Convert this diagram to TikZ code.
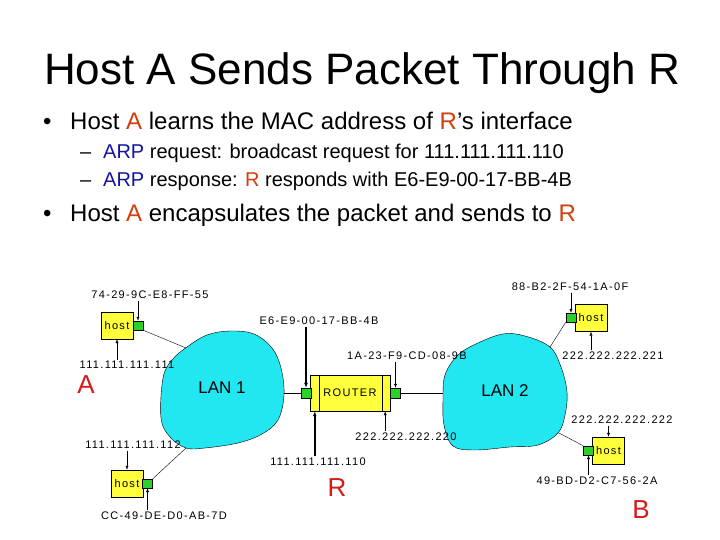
\documentclass[tikz,border=0pt]{standalone}
\usepackage{fontspec}
\setmainfont{Liberation Sans}
\newfontfamily\addrfont[LetterSpace=12]{Liberation Sans}
\usetikzlibrary{arrows.meta,positioning,calc}
\definecolor{hlorange}{RGB}{215,60,10}
\definecolor{arpblue}{RGB}{20,20,160}
\definecolor{sitered}{RGB}{215,25,25}
\definecolor{lancyan}{RGB}{34,230,240}
\definecolor{hostyellow}{RGB}{255,255,60}
\definecolor{portgreen}{RGB}{40,210,40}

\begin{document}
\begin{tikzpicture}[x=1pt, y=-1pt,
  hostbox/.style={draw, fill=hostyellow, minimum width=32pt, minimum height=27pt,
        inner sep=0pt, font=\addrfont\fontsize{11}{13}\selectfont},
  port/.style={draw, fill=portgreen, minimum width=10pt, minimum height=9pt, inner sep=0pt},
  addr/.style={font=\addrfont\fontsize{11}{13}\selectfont, inner sep=1.5pt},
  addrarr/.style={-{Latex[length=4pt,width=3pt]}},
  rtrarr/.style={-{Latex[length=5pt,width=4pt]}, line width=1.6pt},
  site/.style={text=sitered, font=\fontsize{26}{28}\selectfont},
  lan/.style={draw, fill=lancyan},
  line/.style={anchor=base west, inner sep=0pt}]
  \fill[white] (0,0) rectangle (720,540);
  \useasboundingbox (0,0) rectangle (720,540);

  % title and bullets
  \node[line, font=\fontsize{44}{48}\selectfont] (ttl) at (44,85)
    {Host A Sends Packet Through R};
  \node[line, font=\fontsize{24}{28}\selectfont] (b1dot) at (43,130) {•};
  \node[line, font=\fontsize{24}{28}\selectfont] (b1) at (70,130)
    {Host \textcolor{hlorange}{A} learns the MAC address of \textcolor{hlorange}{R}’s interface};
  \node[line, font=\fontsize{20}{24}\selectfont] (s1dash) at (80,159) {–};
  \node[line, font=\fontsize{20}{24}\selectfont] (s1) at (103,159)
    {\textcolor{arpblue}{ARP} request: broadcast request for 111.111.111.110};
  \node[line, font=\fontsize{20}{24}\selectfont] (s2dash) at (80,187) {–};
  \node[line, font=\fontsize{20}{24}\selectfont] (s2) at (103,187)
    {\textcolor{arpblue}{ARP} response: \textcolor{hlorange}{R} responds with E6-E9-00-17-BB-4B};
  \node[line, font=\fontsize{24}{28}\selectfont] (b2dot) at (43,222) {•};
  \node[line, font=\fontsize{24}{28}\selectfont] (b2) at (70,222)
    {Host \textcolor{hlorange}{A} encapsulates the packet and sends to \textcolor{hlorange}{R}};

  % the two LANs
  \draw[lan] plot[smooth cycle, tension=0.6] coordinates {(163,378) (172,360) (187,347)
    (207,335) (230,331) (254,334) (272,348) (281,368) (284,395) (278,420) (262,434)
    (238,443) (205,448) (186,448) (170,437) (161,418)};
  \draw[lan] plot[smooth cycle, tension=0.6] coordinates {(445,375) (458,355) (478,343)
    (503,334) (525,336) (550,347) (561,367) (567,392) (565,415) (558,433) (538,445)
    (510,447) (475,450) (453,446) (444,425) (443,400)};
  \node[font=\fontsize{17}{20}\selectfont] (lan1) at (222,388) {LAN 1};
  \node[font=\fontsize{17}{20}\selectfont] (lan2) at (505,391) {LAN 2};
  \coordinate (lan1nw) at (186,348);
  \coordinate (lan1sw) at (186,448);
  \coordinate (lan1e) at (284,393);
  \coordinate (lan2w) at (443,393);
  \coordinate (lan2ne) at (550,347);
  \coordinate (lan2se) at (559,433);

  % router
  \node[draw, fill=hostyellow, minimum width=80pt, minimum height=36pt, inner sep=0pt,
        font=\addrfont\fontsize{11}{13}\selectfont] (rtr) at (350,393) {ROUTER};
  \draw ([xshift=9pt]rtr.north west) -- ([xshift=9pt]rtr.south west);
  \draw ([xshift=-8pt]rtr.north east) -- ([xshift=-8pt]rtr.south east);
  \coordinate (rtrin1) at ([xshift=5pt]rtr.south west);
  \coordinate (rtrin2) at ([xshift=-5pt]rtr.south east);
  \node[port, minimum height=10pt] (pL) at (306,393) {};
  \node[port, minimum height=10pt] (pR) at (395.5,393) {};
  \draw (lan1e) -- (pL.west);
  \draw (pR.east) -- (lan2w);

  % hosts
  \node[hostbox] (hA) at (117,325.5) {host};
  \node[port] (pA) at (138,325.5) {};
  \node[hostbox] (hC) at (127,483.5) {host};
  \node[port] (pC) at (147.5,483.5) {};
  \node[hostbox] (hD) at (591,318) {host};
  \node[port] (pD) at (571,317.5) {};
  \node[hostbox] (hB) at (608.5,450.5) {host};
  \node[port] (pB) at (588.5,450.5) {};
  \draw (pA.south east) -- (lan1nw);
  \draw (pC.north east) -- (lan1sw);
  \draw (pD.south west) -- (lan2ne);
  \draw (pB.north west) -- (lan2se);

  % addresses
  \node[addr] (macA) at (150,295) {74-29-9C-E8-FF-55};
  \node[addr] (ipA) at (127,365) {111.111.111.111};
  \node[addr] (ipC) at (133,445) {111.111.111.112};
  \node[addr] (macC) at (164,516) {CC-49-DE-D0-AB-7D};
  \node[addr] (macL) at (319,321) {E6-E9-00-17-BB-4B};
  \node[addr] (macR) at (407,356) {1A-23-F9-CD-08-9B};
  \node[addr] (ipR2) at (406,437) {222.222.222.220};
  \node[addr] (ipR1) at (318,462) {111.111.111.110};
  \node[addr] (macD) at (570,287) {88-B2-2F-54-1A-0F};
  \node[addr] (ipD) at (613,356) {222.222.222.221};
  \node[addr] (ipB) at (622,420) {222.222.222.222};
  \node[addr] (macB) at (597,481) {49-BD-D2-C7-56-2A};

  \draw[addrarr] (macA.south -| pA.north) -- (pA.north);
  \draw[addrarr] (ipA.north -| hA.south) -- (hA.south);
  \draw[addrarr] (ipC.south -| hC.north) -- (hC.north);
  \draw[addrarr] (macC.north -| pC.south) -- (pC.south);
  \draw[rtrarr] (macL.south -| pL.north) -- (pL.north);
  \draw[addrarr] (macR.south -| pR.north) -- (pR.north);
  \draw[addrarr] (ipR2.north -| rtrin2) -- (rtrin2);
  \draw[rtrarr] (ipR1.north -| rtrin1) -- (rtrin1);
  \draw[addrarr] (macD.south -| pD.north) -- (pD.north);
  \draw[addrarr] (ipD.north -| hD.south) -- (hD.south);
  \draw[addrarr] (ipB.south -| hB.north) -- (hB.north);
  \draw[addrarr] (macB.north -| pB.south) -- (pB.south);

  % end points
  \node[site] (siteA) at (86,385) {A};
  \node[site] (siteR) at (337,488) {R};
  \node[site] (siteB) at (641,510) {B};
\end{tikzpicture}
\end{document}
